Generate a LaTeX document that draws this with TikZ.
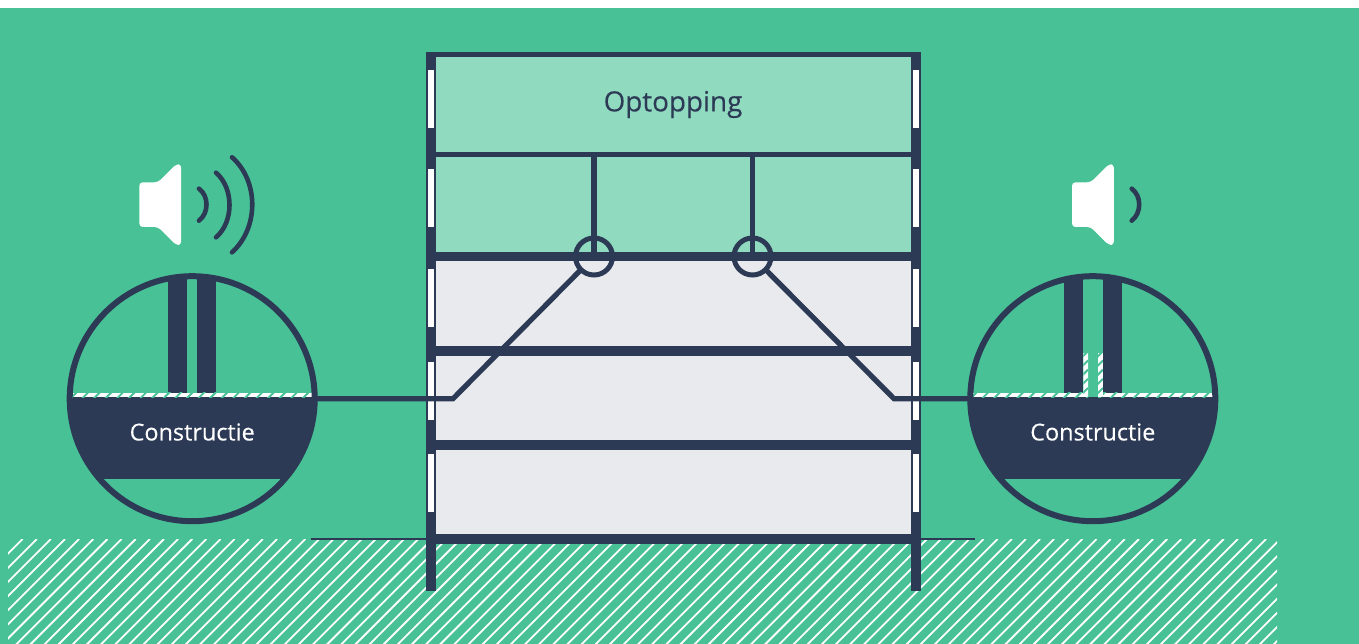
\documentclass[tikz,border=0pt]{standalone}
\usepackage{fontspec}
\setmainfont[FakeBold=0.25]{Open Sans}
\definecolor{bggreen}{RGB}{72,193,150}
\definecolor{navy}{RGB}{44,58,86}
\definecolor{lightgreen}{RGB}{144,219,192}
\definecolor{roomgrey}{RGB}{233,234,238}
\tikzset{
  hub/.style={circle,draw=navy,line width=5pt,minimum size=37pt,inner sep=0pt,outer sep=0pt},
  lens/.style={circle,draw=navy,line width=6pt,minimum size=245pt,inner sep=0pt,outer sep=0pt},
  wire/.style={draw=navy,line width=5.2pt,line join=miter},
  wave/.style={draw=navy,line width=4.6pt,line cap=round},
  ground/.style={draw=navy,line width=2.2pt},
  hatchline/.style={draw=white,line width=1.8pt},
  wallbar/.style={fill=navy},
  pane/.style={fill=white},
  speaker/.style={fill=white,rounded corners=3.5pt},
  lenstext/.style={text=white,font=\fontsize{23.4}{28}\selectfont,inner sep=0pt},
  headtext/.style={text=navy,font=\fontsize{27.8}{32}\selectfont,inner sep=0pt}
}
\newcommand{\strip}[2]{% from x to x, hatched white band
  \begin{scope}
    \clip (#1,392.7) rectangle (#2,397);
    \fill[white] (#1,392.7) rectangle (#2,397);
    \foreach \k in {0,...,24}{
      \draw[draw=bggreen,line width=1.9pt] ({#1+\k*11.6},399) -- ++(8,-8);
    }
  \end{scope}
}
\begin{document}
\begin{tikzpicture}[x=1pt,y=-1pt]
\useasboundingbox (0,0) rectangle (1359,644);
\fill[white] (0,0) rectangle (1359,644);
\fill[bggreen] (0,8) rectangle (1359,644);
% ground hatch
\begin{scope}
  \clip (8,539) rectangle (1277,644);
  \foreach \k in {0,...,100}{
    \draw[hatchline] ({22.7+\k*14.13},539) -- ++(-120,120);
  }
\end{scope}
\coordinate (gl) at (310.5,539);
\coordinate (gla) at (426,539);
\coordinate (gr) at (975,539);
\coordinate (gra) at (920,539);
\draw[ground] (gl) -- (gla);
\draw[ground] (gra) -- (gr);
% rooms
\fill[lightgreen] (436,57) rectangle (911,252);
\fill[roomgrey] (436,261) rectangle (911,534);
% floors
\fill[wallbar] (426,52) rectangle (920.5,57);
\fill[wallbar] (426,152) rectangle (920.5,157);
\fill[wallbar] (426,252) rectangle (920.5,261);
\fill[wallbar] (426,346) rectangle (920.5,356);
\fill[wallbar] (426,439.5) rectangle (920.5,449.5);
\fill[wallbar] (426,534) rectangle (920.5,544);
% walls
\fill[wallbar] (426,52) rectangle (436,591);
\fill[wallbar] (910.5,52) rectangle (920.5,591);
% windows
\foreach \a/\b in {70/128,169/227,268.5/326.5,361.5/419.5,454/512}{
  \fill[pane] (428,\a) rectangle (434,\b);
  \fill[pane] (912.5,\a) rectangle (918.5,\b);
}
\node[headtext] (optop) at (673,104.5) {Optopping};
% lens interiors (left)
\begin{scope}
  \clip (192.2,398.7) circle (122.5pt);
  \fill[navy] (60,396.7) rectangle (330,479);
  \fill[navy] (168,270) rectangle (187.3,393);
  \fill[navy] (197,270) rectangle (216.3,393);
  \strip{70}{315}
\end{scope}
% lens interiors (right)
\begin{scope}
  \clip (1092.8,398.7) circle (122.5pt);
  \fill[navy] (960,396.7) rectangle (1230,479);
  \fill[navy] (1064,270) rectangle (1083.3,393);
  \fill[navy] (1103,270) rectangle (1122,393);
  \strip{970}{1088}
  \strip{1098}{1216}
  \begin{scope}
    \clip (1083.3,353) rectangle (1088,397) (1098,353) rectangle (1102.8,397);
    \fill[white] (1080,353) rectangle (1106,397);
    \foreach \k in {0,...,7}{
      \draw[draw=bggreen,line width=2pt] (1080,{350+\k*9.2}) -- ++(8,-8);
      \draw[draw=bggreen,line width=2pt] (1095,{350+\k*9.2}) -- ++(8,-8);
    }
  \end{scope}
\end{scope}
\node[lens] (lensL) at (192.2,398.7) {};
\node[lens] (lensR) at (1092.8,398.7) {};
\node[lenstext] (conL) at (192.2,432) {Constructie};
\node[lenstext] (conR) at (1092.8,432) {Constructie};
% hubs and connectors
\node[hub] (hubL) at (594,256.5) {};
\node[hub] (hubR) at (752.5,256.5) {};
\coordinate (topL) at (594,157);
\coordinate (topR) at (752.5,157);
\coordinate (kinkL) at (453,398.7);
\coordinate (kinkR) at (894,398.7);
\draw[wire] (topL) -- (hubL.center);
\draw[wire] (topR) -- (hubR.center);
\draw[wire] (lensL.east) -- (kinkL) -- (hubL);
\draw[wire] (lensR.west) -- (kinkR) -- (hubR);
% speakers
\foreach \dx in {0,932.7}{
  \fill[speaker] ({139.3+\dx},182.3) -- ({158+\dx},182.3) -- ({176+\dx},164.3) -- ({181.2+\dx},164.3)
     -- ({181.2+\dx},245) -- ({176+\dx},245) -- ({158+\dx},227) -- ({139.3+\dx},227) -- cycle;
  \draw[wave] ({199+\dx},188.7) .. controls ({209+\dx},196) and ({209+\dx},213) .. ({199+\dx},220.7);
}
\draw[wave] (216,172.7) .. controls (234,188) and (234,222) .. (216,237.3);
\draw[wave] (232,157.3) .. controls (259,181) and (259,228) .. (232,252.3);
\end{tikzpicture}
\end{document}
